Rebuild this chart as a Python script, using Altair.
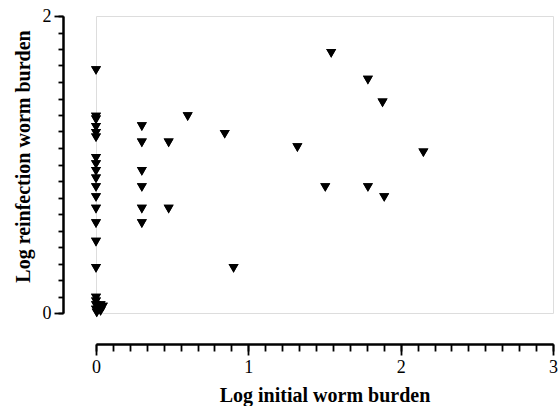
import altair as alt
import pandas as pd

# Log initial worm burden (x) and log reinfection worm burden (y)
x_vals = [0, 0, 0, 0, 0, 0, 0,
          0, 0, 0, 0, 0, 0, 0, 0,
          0, 0,
          0, 0, 0.03, 0.045, 0, 0.03, 0.005,
          0.301, 0.301, 0.301, 0.301, 0.301, 0.301,
          0.477, 0.477,
          0.602, 0.845, 0.903, 1.322,
          1.544, 1.785, 1.881, 2.149,
          1.505, 1.785, 1.892]
y_vals = [1.633, 1.32, 1.30, 1.25, 1.21, 1.18, 1.041,
          1.0, 0.954, 0.903, 0.845, 0.778, 0.699, 0.602, 0.477,
          0.301, 0.10,
          0.075, 0.05, 0.05, 0.04, 0.02, 0.01, 0.0,
          1.255, 1.146, 0.954, 0.845, 0.699, 0.602,
          1.146, 0.699,
          1.322, 1.204, 0.301, 1.114,
          1.748, 1.568, 1.415, 1.079,
          0.845, 0.845, 0.778]

x_major = [0, 1, 2, 3]
y_major = [0, 1, 2]
x_minor = [i / 9 for i in range(28)]
y_minor = [i / 9 for i in range(19)]

df = pd.DataFrame({"x": x_vals, "y": y_vals})

common = dict(
    grid=False,
    ticks=True,
    domainColor="black",
    domainWidth=2,
    tickColor="black",
    tickOpacity=1,
    tickWidth=1.8,
    labelOverlap=False,
    labelFlush=False,
    labelFont="Liberation Serif",
    labelFontSize=18,
    labelColor="black",
    titleFont="Liberation Serif",
    titleFontWeight="bold",
    titleColor="black",
)

x_minor_axis = alt.Axis(orient="bottom", values=x_minor, tickSize=7, labels=False,
                        title=None, offset=31, **common)
y_minor_axis = alt.Axis(orient="left", values=y_minor, tickSize=5, labels=False,
                        title=None, offset=33, **common)
x_major_axis = alt.Axis(orient="bottom", values=x_major, tickSize=11, format="d",
                        title="Log initial worm burden", titleFontSize=20,
                        labelPadding=3, titlePadding=9, offset=31, **common)
y_major_axis = alt.Axis(orient="left", values=y_major, tickSize=9, format="d",
                        title="Log reinfection worm burden", titleFontSize=20,
                        labelPadding=3, titlePadding=9, titleY=140, offset=33,
                        **common)

xs = alt.Scale(domain=[0, 3], nice=False, zero=False)
ys = alt.Scale(domain=[0, 2], nice=False, zero=False)

base = alt.Chart(df).mark_point(shape="triangle-down", filled=True, color="black",
                                size=100, opacity=1)

minor = base.encode(
    x=alt.X("x:Q", scale=xs, axis=x_minor_axis),
    y=alt.Y("y:Q", scale=ys, axis=y_minor_axis),
)
major = base.encode(
    x=alt.X("x:Q", scale=xs, axis=x_major_axis),
    y=alt.Y("y:Q", scale=ys, axis=y_major_axis),
)

chart = (
    alt.layer(minor, major)
    .resolve_axis(x="independent", y="independent")
    .properties(
        width=457,
        height=297,
        autosize=alt.AutoSizeParams(type="none"),
        padding={"left": 96, "top": 16, "right": 7, "bottom": 93},
    )
    .configure_view(stroke=None)
    .configure(background="white")
)

chart.save("out.html", embed_options={"renderer": "svg", "actions": False})
